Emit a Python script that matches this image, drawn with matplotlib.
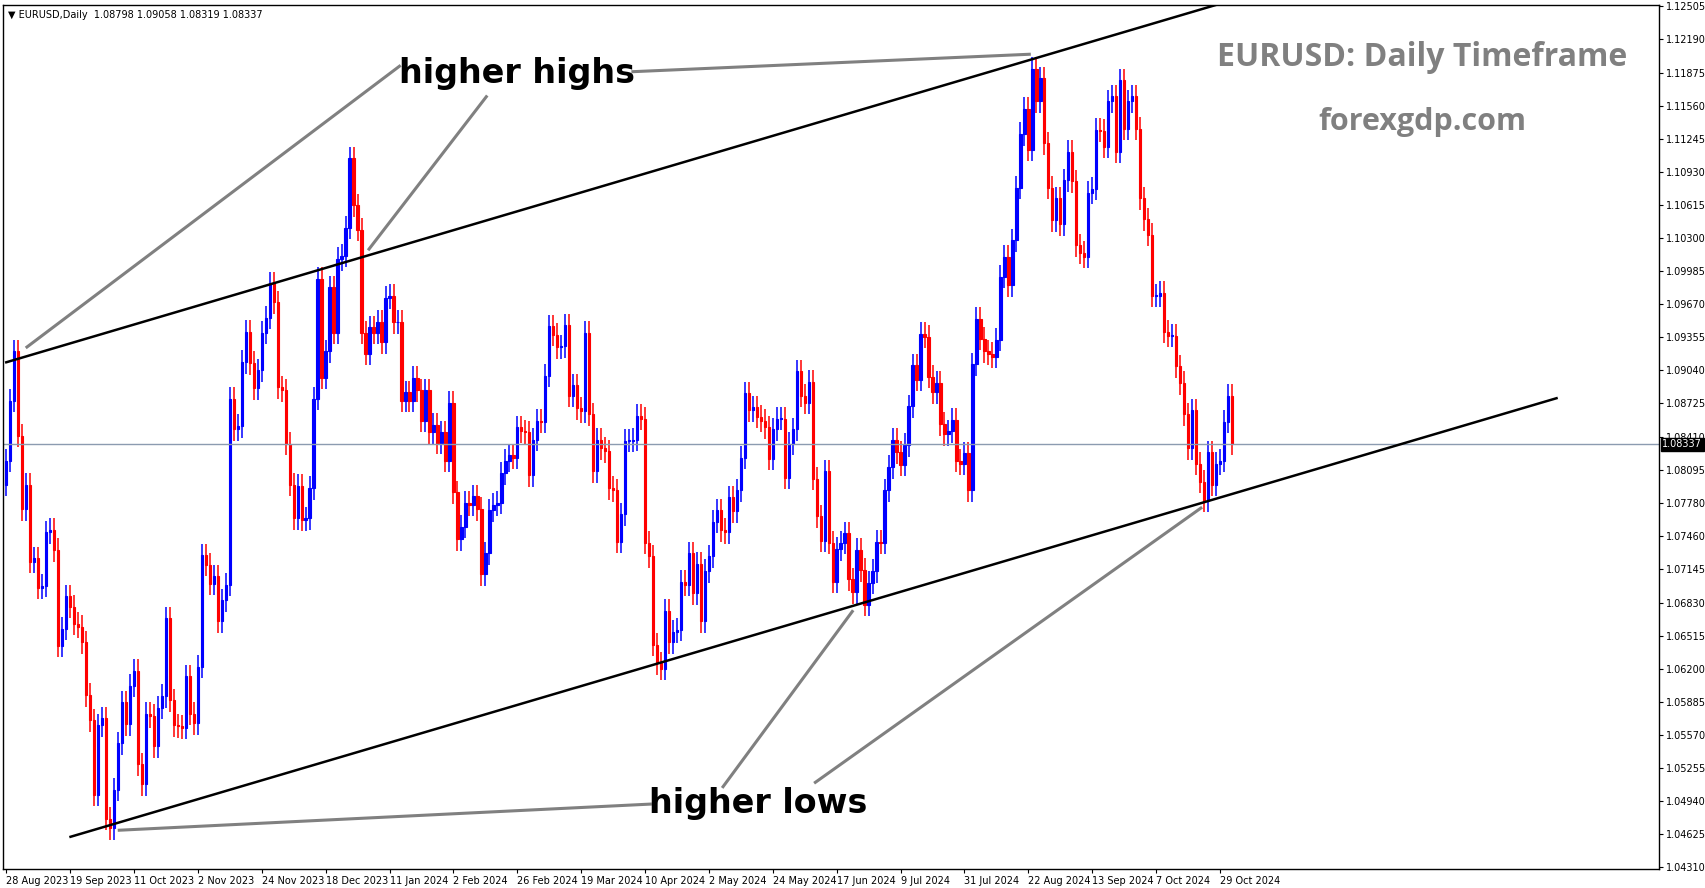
import matplotlib
matplotlib.use("Agg")
from matplotlib import pyplot as plt
from matplotlib.patches import Rectangle
import numpy as np

# daily closes, EURUSD, 28 Aug 2023 .. 1 Nov 2024
closes = [
    1.0818, 1.0875, 1.0922, 1.0842, 1.0772,
    1.0795, 1.0722, 1.0725, 1.0697, 1.0699,
    1.0750, 1.0752, 1.0733, 1.0642, 1.0658,
    1.0689, 1.0679, 1.0663, 1.0660, 1.0645,
    1.0595, 1.0571, 1.0500, 1.0566, 1.0573,
    1.0477, 1.0468, 1.0505, 1.0549, 1.0588,
    1.0567, 1.0604, 1.0618, 1.0529, 1.0510,
    1.0577, 1.0575, 1.0546, 1.0583, 1.0594,
    1.0668, 1.0590, 1.0566, 1.0565, 1.0564,
    1.0613, 1.0577, 1.0568, 1.0622, 1.0728,
    1.0719, 1.0701, 1.0708, 1.0665, 1.0685,
    1.0700, 1.0877, 1.0848, 1.0851, 1.0912,
    1.0941, 1.0911, 1.0887, 1.0904, 1.0940,
    1.0954, 1.0987, 1.0969, 1.0888, 1.0885,
    1.0834, 1.0795, 1.0763, 1.0794, 1.0762,
    1.0763, 1.0792, 1.0877, 1.0991, 1.0897,
    1.0922, 1.0983, 1.0940, 1.1010, 1.1013,
    1.1040, 1.1106, 1.1061, 1.1038,
    1.0940, 1.0920, 1.0945, 1.0940,
    1.0950, 1.0931, 1.0973, 1.0975, 1.0950,
    1.0950, 1.0875, 1.0883, 1.0875, 1.0897,
    1.0885, 1.0856, 1.0885, 1.0845, 1.0852,
    1.0835, 1.0845, 1.0818, 1.0873, 1.0788,
    1.0743, 1.0755, 1.0778, 1.0776, 1.0784,
    1.0772, 1.0710, 1.0730, 1.0771, 1.0776,
    1.0778, 1.0806, 1.0818, 1.0823, 1.0821,
    1.0850, 1.0846, 1.0845, 1.0804, 1.0838,
    1.0856, 1.0855, 1.0899, 1.0946, 1.0938,
    1.0926, 1.0927, 1.0947, 1.0880, 1.0890,
    1.0868, 1.0865, 1.0940, 1.0862, 1.0808,
    1.0838, 1.0830, 1.0827, 1.0792, 1.0790,
    1.0741, 1.0767, 1.0837, 1.0837, 1.0838,
    1.0861, 1.0858, 1.0740, 1.0727, 1.0643,
    1.0625, 1.0620, 1.0675, 1.0645, 1.0655,
    1.0657, 1.0703, 1.0700, 1.0730, 1.0692,
    1.0720, 1.0665, 1.0713, 1.0727, 1.0760,
    1.0771, 1.0752, 1.0750, 1.0783, 1.0770,
    1.0790, 1.0821, 1.0882, 1.0866, 1.0869,
    1.0860, 1.0856, 1.0850, 1.0820, 1.0848,
    1.0858, 1.0858, 1.0802, 1.0834, 1.0848,
    1.0903, 1.0880, 1.0873, 1.0893, 1.0801,
    1.0765, 1.0742, 1.0808, 1.0740, 1.0703,
    1.0734, 1.0740, 1.0749, 1.0705, 1.0693,
    1.0733, 1.0714, 1.0681, 1.0702, 1.0713,
    1.0741, 1.0740, 1.0790, 1.0812, 1.0838,
    1.0826, 1.0814, 1.0833, 1.0870, 1.0909,
    1.0895, 1.0939, 1.0936, 1.0898, 1.0883,
    1.0892, 1.0853, 1.0843, 1.0846, 1.0857,
    1.0818, 1.0815, 1.0825, 1.0790, 1.0910,
    1.0953, 1.0934, 1.0922, 1.0920, 1.0917,
    1.0933, 1.0993, 1.1012, 1.0985, 1.1028,
    1.1078, 1.1129, 1.1153, 1.1114, 1.1191,
    1.1160, 1.1182, 1.1120, 1.1078, 1.1047,
    1.1068, 1.1043, 1.1085, 1.1112, 1.1084,
    1.1023, 1.1016, 1.1012, 1.1073, 1.1077,
    1.1133, 1.1132, 1.1117, 1.1160, 1.1165,
    1.1112, 1.1180, 1.1134, 1.1160, 1.1165,
    1.1134, 1.1068, 1.1048, 1.1033, 1.0975,
    1.0975, 1.0978, 1.0941, 1.0937, 1.0937,
    1.0908, 1.0892, 1.0862, 1.0830, 1.0866,
    1.0815, 1.0798, 1.0780, 1.0826, 1.0795,
    1.0815, 1.0818, 1.0855, 1.0880, 1.0834,
]
first_open = 1.0795
wick = 0.0011

date_labels = ["28 Aug 2023", "19 Sep 2023", "11 Oct 2023", "2 Nov 2023", "24 Nov 2023",
               "18 Dec 2023", "11 Jan 2024", "2 Feb 2024", "26 Feb 2024", "19 Mar 2024",
               "10 Apr 2024", "2 May 2024", "24 May 2024", "17 Jun 2024", "9 Jul 2024",
               "31 Jul 2024", "22 Aug 2024", "13 Sep 2024", "7 Oct 2024", "29 Oct 2024"]
price_ticks = [1.12505, 1.12190, 1.11875, 1.11560, 1.11245, 1.10930, 1.10615, 1.10300,
               1.09985, 1.09670, 1.09355, 1.09040, 1.08725, 1.08410, 1.08095, 1.07780,
               1.07460, 1.07145, 1.06830, 1.06515, 1.06200, 1.05885, 1.05570, 1.05255,
               1.04940, 1.04625, 1.04310]
last_price = 1.08337

# channel lines (bar index, price)
upper_line = [(0, 1.09117), (304.0, 1.1253)]
lower_line = [(16.1, 1.04600), (388.3, 1.08775)]

closes = np.array(closes)
opens = np.concatenate([[first_open], closes[:-1]])
highs = np.maximum(opens, closes) + wick
lows = np.minimum(opens, closes) - wick

fig = plt.figure(figsize=(17.05, 8.88), dpi=100)
ax = fig.add_axes([0.0018, 0.021, 0.9713, 0.973])
ylo, yhi = 1.04290, 1.12515
xlo, xhi = -0.8, 414
ax.set_xlim(xlo, xhi)
ax.set_ylim(ylo, yhi)

for i, (o, h, l, c) in enumerate(zip(opens, highs, lows, closes)):
    col = "#0000ff" if c >= o else "#ff0000"
    ax.vlines(i, l, h, color=col, lw=1.1)
    ax.add_patch(Rectangle((i - 0.3, min(o, c)), 0.6, max(abs(c - o), 0.00005),
                           facecolor=col, edgecolor=col, lw=0.8))

ax.axhline(last_price, color="#8c9bb0", lw=1)

for (x0, y0), (x1, y1) in [upper_line, lower_line]:
    ax.plot([x0, x1], [y0, y1], color="black", lw=1.8)

# layout helper: screenshot coordinates -> data coordinates
def px(x, y):
    return (x / 1525 * (xhi - xlo) + xlo, 1.12505 - (y - 5) * 0.0001036)

gray = "#808080"
for a, b in [((365, 60), (22, 318)), ((445, 88), (337, 228)), ((580, 65), (945, 49)),
             ((596, 738), (107, 762)), ((663, 722), (782, 561)), ((748, 718), (1103, 466))]:
    p, q = px(*a), px(*b)
    ax.plot([p[0], q[0]], [p[1], q[1]], color=gray, lw=2.2)

ax.text(*px(473, 67), "higher highs", fontsize=24, fontweight="bold", ha="center", va="center")
ax.text(*px(695, 737), "higher lows", fontsize=24, fontweight="bold", ha="center", va="center")
ax.text(*px(1307, 52), "EURUSD: Daily Timeframe", fontsize=23, fontweight="bold",
        color=gray, ha="center", va="center", family="Open Sans")
ax.text(*px(1307, 111), "forexgdp.com", fontsize=22, fontweight="bold",
        color=gray, ha="center", va="center", family="Open Sans")
ax.text(0.003, 0.995, "\u25BC EURUSD,Daily  1.08798 1.09058 1.08319 1.08337",
        transform=ax.transAxes, fontsize=7, va="top", ha="left")

ax.set_xticks(np.arange(len(date_labels)) * 16)
ax.set_xticklabels(date_labels, fontsize=7, ha="left")
ax.yaxis.tick_right()
ax.set_yticks(price_ticks)
ax.set_yticklabels([f"{p:.5f}" for p in price_ticks], fontsize=7)
ax.tick_params(length=3, width=0.8, pad=2)
ax.text(1.002, last_price, f"{last_price:.5f}", transform=ax.get_yaxis_transform(),
        fontsize=7, color="white", va="center", ha="left",
        bbox=dict(boxstyle="square,pad=0.15", fc="black", ec="black"))
for s in ax.spines.values():
    s.set_linewidth(1)

fig.savefig("out.png", dpi=100)
